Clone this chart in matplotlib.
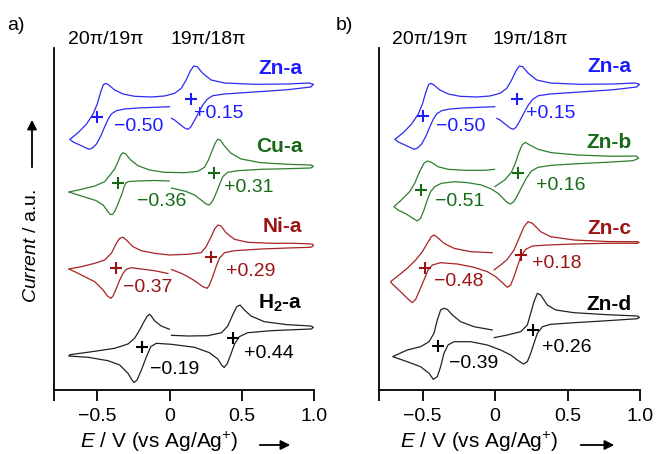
import matplotlib
matplotlib.use('Agg')
import matplotlib.pyplot as plt
from matplotlib.patches import FancyArrowPatch

plt.rcParams['font.family'] = ['Liberation Sans', 'DejaVu Sans']
plt.rcParams['mathtext.fontset'] = 'custom'
plt.rcParams['mathtext.rm'] = 'Liberation Sans'
plt.rcParams['mathtext.it'] = 'Liberation Sans:italic'
plt.rcParams['mathtext.bf'] = 'Liberation Sans:bold'

# ---------------- data (E in V vs Ag/Ag+, current in a.u. incl. vertical offset) -------------
x_ticks = [-0.8, -0.5, 0.0, 0.5, 1.0]
x_tick_labels = ['', '\u22120.5', '0', '0.5', '1.0']
wave_labels = ['20\u03c0/19\u03c0', '19\u03c0/18\u03c0']

zn_a_1 = [(-0.690, 250.7), (-0.633, 257.3), (-0.575, 266.0), (-0.529, 276.0), (-0.499, 286.7),
          (-0.476, 298.3), (-0.458, 305.3), (-0.442, 306.7), (-0.421, 305.0), (-0.380, 300.0),
          (-0.322, 296.0), (-0.242, 293.7), (-0.127, 293.0), (-0.035, 294.0), (0.035, 296.7),
          (0.081, 301.7), (0.115, 310.0), (0.145, 319.3), (0.168, 324.0), (0.191, 323.3),
          (0.230, 316.7), (0.288, 310.0), (0.380, 307.0), (0.587, 305.7), (0.817, 306.0),
          (0.966, 307.0), (0.996, 305.7), (0.978, 303.0), (0.817, 300.3), (0.587, 298.0),
          (0.380, 296.0), (0.299, 294.3), (0.260, 290.7), (0.230, 285.0), (0.196, 276.0),
          (0.168, 268.3), (0.145, 262.7), (0.127, 260.7), (0.104, 262.0), (0.069, 266.0),
          (0.035, 270.0), (0.012, 271.7)]
zn_a_2 = [(0.000, 283.3), (-0.104, 282.7), (-0.219, 282.0), (-0.311, 281.0), (-0.368, 279.3),
          (-0.403, 276.0), (-0.426, 270.7), (-0.449, 263.3), (-0.476, 254.0), (-0.506, 246.0),
          (-0.534, 242.0), (-0.557, 240.7), (-0.582, 242.3), (-0.621, 245.0), (-0.667, 248.0),
          (-0.690, 250.7)]

cu_a_1 = [(-0.697, 198.0), (-0.610, 200.7), (-0.518, 204.0), (-0.449, 208.3), (-0.414, 214.7),
          (-0.380, 221.0), (-0.357, 228.3), (-0.338, 235.0), (-0.322, 237.3), (-0.304, 236.0),
          (-0.269, 230.0), (-0.219, 224.3), (-0.138, 220.0), (-0.035, 217.7), (0.104, 217.3),
          (0.196, 218.7), (0.242, 222.7), (0.269, 230.0), (0.292, 238.3), (0.315, 246.7),
          (0.334, 250.7), (0.352, 250.0), (0.380, 244.0), (0.426, 236.7), (0.495, 231.0),
          (0.633, 227.3), (0.817, 225.7), (0.978, 225.0), (0.996, 223.7), (0.978, 222.0),
          (0.817, 221.3), (0.633, 220.7), (0.472, 219.3), (0.403, 217.7), (0.368, 213.3),
          (0.345, 205.0), (0.322, 196.7), (0.299, 189.3), (0.276, 185.0), (0.253, 186.0),
          (0.219, 190.0), (0.173, 195.0), (0.115, 198.5), (0.058, 200.5), (0.012, 202.0)]
cu_a_2 = [(0.000, 209.0), (-0.104, 209.5), (-0.219, 209.0), (-0.280, 208.5), (-0.300, 207.5),
          (-0.315, 203.0), (-0.330, 196.0), (-0.356, 186.5), (-0.378, 179.0), (-0.395, 175.5),
          (-0.410, 175.5), (-0.430, 179.0), (-0.460, 185.0), (-0.510, 189.5), (-0.600, 193.5),
          (-0.697, 198.0)]

ni_a_1 = [(-0.697, 121.0), (-0.610, 123.3), (-0.518, 126.7), (-0.449, 130.0), (-0.403, 136.7),
          (-0.368, 146.7), (-0.345, 151.7), (-0.322, 152.7), (-0.299, 150.0), (-0.253, 143.3),
          (-0.196, 139.3), (-0.104, 136.7), (0.000, 135.0), (0.127, 135.7), (0.219, 137.3),
          (0.253, 143.3), (0.288, 153.3), (0.311, 160.7), (0.334, 165.0), (0.357, 164.0),
          (0.391, 157.3), (0.449, 150.7), (0.541, 147.7), (0.702, 146.7), (0.863, 146.7),
          (0.989, 146.0), (0.996, 144.3), (0.978, 142.7), (0.817, 142.0), (0.633, 141.0),
          (0.449, 139.3), (0.380, 137.3), (0.345, 131.7), (0.322, 123.3), (0.299, 113.3),
          (0.276, 105.0), (0.260, 101.7), (0.230, 103.3), (0.184, 108.3), (0.127, 113.3),
          (0.081, 116.7), (0.012, 120.5)]
ni_a_2 = [(-0.010, 116.5), (-0.104, 119.3), (-0.196, 121.0), (-0.265, 122.3), (-0.299, 120.7),
          (-0.322, 116.7), (-0.345, 110.0), (-0.368, 101.7), (-0.391, 94.0), (-0.407, 91.7),
          (-0.430, 94.0), (-0.460, 100.0), (-0.518, 108.3), (-0.587, 113.3), (-0.656, 118.3),
          (-0.697, 121.0)]

h2_a_1 = [(0.000, 60.7), (-0.058, 64.0), (-0.104, 69.3), (-0.127, 74.0), (-0.138, 75.7),
          (-0.154, 74.0), (-0.177, 68.3), (-0.207, 60.0), (-0.242, 51.7), (-0.288, 46.0),
          (-0.380, 41.7), (-0.518, 38.7), (-0.690, 35.3), (-0.698, 34.0), (-0.564, 32.7),
          (-0.426, 29.3), (-0.345, 25.0), (-0.288, 16.7), (-0.260, 10.0), (-0.245, 7.5),
          (-0.225, 10.0), (-0.195, 20.0), (-0.160, 33.3), (-0.130, 43.3), (-0.092, 46.7),
          (0.012, 45.7), (0.173, 42.7), (0.276, 37.3), (0.334, 31.0), (0.360, 25.0),
          (0.378, 22.5), (0.400, 26.5), (0.425, 36.0), (0.450, 46.0), (0.483, 53.3),
          (0.541, 57.3), (0.702, 59.3), (0.863, 60.3), (0.982, 61.0), (0.996, 62.7),
          (0.978, 64.0), (0.817, 65.3), (0.656, 68.3), (0.564, 74.0), (0.513, 80.7),
          (0.488, 85.0), (0.465, 83.3), (0.437, 75.0), (0.403, 64.0), (0.360, 57.3),
          (0.265, 54.3), (0.127, 54.0), (0.012, 54.7)]

zn_b_1 = [(-0.002, 220.7), (-0.071, 219.7), (-0.209, 219.7), (-0.324, 220.7), (-0.393, 223.3),
          (-0.439, 227.7), (-0.467, 229.0), (-0.490, 226.7), (-0.520, 218.3), (-0.554, 206.7),
          (-0.589, 198.3), (-0.646, 190.0), (-0.697, 183.3), (-0.669, 180.0), (-0.612, 176.0),
          (-0.566, 171.7), (-0.536, 169.0), (-0.513, 171.7), (-0.490, 180.0), (-0.467, 190.0),
          (-0.444, 198.3), (-0.416, 203.3), (-0.370, 206.7), (-0.278, 208.3), (-0.186, 207.3),
          (-0.094, 205.0), (-0.025, 201.0), (0.021, 196.7), (0.055, 191.7), (0.083, 187.7),
          (0.106, 186.0), (0.129, 188.3), (0.154, 194.3), (0.182, 202.3), (0.216, 211.7),
          (0.251, 219.0), (0.297, 222.7), (0.389, 224.7), (0.573, 226.3), (0.803, 228.0),
          (0.952, 229.3), (0.991, 231.7), (0.975, 234.0), (0.803, 233.7), (0.573, 235.0),
          (0.389, 237.3), (0.297, 240.7), (0.239, 245.0), (0.209, 247.7), (0.186, 245.0),
          (0.163, 236.7), (0.140, 226.7), (0.113, 217.7), (0.067, 210.0), (-0.002, 203.3)]

zn_c_1 = [(-0.018, 137.3), (-0.168, 138.3), (-0.283, 141.7), (-0.352, 146.7), (-0.398, 152.7),
          (-0.421, 155.0), (-0.439, 153.3), (-0.467, 146.7), (-0.501, 138.3), (-0.547, 130.0),
          (-0.605, 121.7), (-0.662, 115.0), (-0.720, 108.3), (-0.708, 106.0), (-0.651, 98.3),
          (-0.605, 91.7), (-0.570, 87.3), (-0.547, 90.7), (-0.524, 98.3), (-0.490, 110.0),
          (-0.462, 120.0), (-0.432, 125.0), (-0.375, 127.3), (-0.260, 126.0), (-0.145, 122.7),
          (-0.053, 118.3), (0.005, 113.3), (0.051, 107.3), (0.085, 102.7), (0.108, 105.0),
          (0.131, 113.3), (0.154, 123.3), (0.177, 133.3), (0.212, 140.7), (0.258, 144.0),
          (0.361, 145.0), (0.545, 146.0), (0.775, 146.7), (0.982, 146.7), (0.994, 147.7),
          (0.982, 148.3), (0.775, 148.5), (0.545, 150.0), (0.384, 153.3), (0.315, 158.3),
          (0.258, 166.7), (0.228, 168.3), (0.200, 163.3), (0.166, 151.7), (0.131, 140.0),
          (0.085, 130.7), (0.039, 125.0), (-0.007, 120.0)]

zn_d_1 = [(-0.018, 60.0), (-0.145, 63.3), (-0.237, 68.3), (-0.294, 75.0), (-0.329, 80.7),
          (-0.352, 81.7), (-0.375, 80.0), (-0.398, 70.0), (-0.421, 56.7), (-0.455, 48.3),
          (-0.513, 43.3), (-0.605, 40.0), (-0.697, 34.0), (-0.705, 33.3), (-0.605, 28.3),
          (-0.513, 23.3), (-0.455, 16.7), (-0.426, 10.7), (-0.398, 13.3), (-0.375, 23.3),
          (-0.352, 36.7), (-0.324, 45.0), (-0.283, 48.3), (-0.168, 48.3), (-0.053, 45.0),
          (0.039, 40.0), (0.108, 35.0), (0.154, 30.0), (0.196, 26.0), (0.223, 28.3),
          (0.246, 36.7), (0.269, 46.7), (0.292, 56.7), (0.327, 63.3), (0.384, 65.7),
          (0.545, 67.3), (0.775, 69.3), (0.982, 71.3), (0.996, 72.7), (0.982, 74.0),
          (0.775, 75.3), (0.545, 77.3), (0.419, 80.0), (0.361, 85.0), (0.315, 95.0),
          (0.292, 96.7), (0.269, 88.3), (0.246, 76.7), (0.223, 65.0), (0.177, 58.3),
          (0.085, 55.0), (-0.007, 52.3)]

names_a = ['Zn-a', 'Cu-a', 'Ni-a', r'H$_\mathbf{2}$-a']
names_b = ['Zn-a', 'Zn-b', 'Zn-c', 'Zn-d']
e_half_a = [(-0.50, 0.15), (-0.36, 0.31), (-0.37, 0.29), (-0.19, 0.44)]
e_half_b = [(-0.50, 0.15), (-0.51, 0.16), (-0.48, 0.18), (-0.39, 0.26)]
# current level at which each E1/2 cross is drawn
cross_i_a = [(273.3, 290.7), (206.7, 217.3), (121.7, 133.3), (42.7, 52.3)]
cross_i_b = [(274.0, 291.0), (200.0, 216.7), (121.7, 135.0), (44.0, 60.0)]

# ---------------- layout / style -------------
W, H = 656, 454
fig = plt.figure(figsize=(W / 100, H / 100), dpi=100)


def frac(x, y):
    return (x / W, 1 - y / H)


LINE = {'blue': '#2b2bf2', 'green': '#2f7d2f', 'red': '#a52424', 'black': '#222222'}
TXT = {'blue': '#1c1cff', 'green': '#176a17', 'red': '#9c1414', 'black': '#000000'}
colors_a = ['blue', 'green', 'red', 'black']
colors_b = ['blue', 'green', 'red', 'black']

curves_a = [[zn_a_1, zn_a_2], [cu_a_1, cu_a_2], [ni_a_1, ni_a_2], [h2_a_1]]
curves_b = [[zn_a_1, zn_a_2], [zn_b_1], [zn_c_1], [zn_d_1]]

# name label (right edge E, I), value labels (left edge E, I) for left and right wave
name_pos_a = [(0.92, 322), (0.92, 244), (0.92, 163), (0.92, 87)]
name_pos_b = [(0.94, 323), (0.94, 247), (0.94, 162), (0.94, 86)]
val_pos_a = [((-0.385, 263.3), (0.172, 276)), ((-0.228, 189), (0.38, 203)),
             ((-0.324, 102), (0.393, 119)), ((-0.138, 21), (0.517, 37))]
val_pos_b = [((-0.41, 263.3), (0.214, 276)), ((-0.414, 188), (0.283, 205)),
             ((-0.42, 108), (0.255, 127)), ((-0.317, 26), (0.324, 43))]

axes_px = [(54, 314), (379, 640)]
top_px, bot_px = 48, 390


def fmt(v):
    return ('+' if v > 0 else '\u2212') + '%.2f' % abs(v)


panels = [
    (curves_a, colors_a, names_a, e_half_a, cross_i_a, name_pos_a, val_pos_a),
    (curves_b, colors_b, names_b, e_half_b, cross_i_b, name_pos_b, val_pos_b),
]

for k, (curves, cols, names, ehalf, cross_i, npos, vpos) in enumerate(panels):
    l, r = axes_px[k]
    ax = fig.add_axes([l / W, 1 - bot_px / H, (r - l) / W, (bot_px - top_px) / H])
    ax.set_xlim(-0.8, 1.0)
    ax.set_ylim(0, bot_px - top_px)
    for s in ['top', 'right']:
        ax.spines[s].set_visible(False)
    for s in ['left', 'bottom']:
        ax.spines[s].set_linewidth(1.3)
    ax.set_xticks(x_ticks)
    ax.set_xticklabels(x_tick_labels, fontsize=14)
    ax.tick_params(axis='x', direction='out', length=8, width=1.3, pad=5)
    ax.set_yticks([])
    ax.patch.set_visible(False)

    for segs, c, name, eh, ci, npp, vp in zip(curves, cols, names, ehalf, cross_i, npos, vpos):
        for seg in segs:
            ax.plot([p[0] for p in seg], [p[1] for p in seg], color=LINE[c], lw=0.9,
                    solid_joinstyle='round', solid_capstyle='round')
        ax.plot(list(eh), list(ci), ls='none', marker='+', ms=8, mew=1.5, color=TXT[c])
        ax.text(npp[0], npp[1], name, ha='right', va='center', fontsize=15,
                fontweight='bold', color=TXT[c])
        for v, (px, py) in zip(eh, vp):
            ax.text(px, py, fmt(v), ha='left', va='center', fontsize=14, color=TXT[c])

    # wave assignment labels above the plot
    wx = [(106, 208), (430, 530)][k]
    for x, t in zip(wx, wave_labels):
        fig.text(*frac(x, 39), t, ha='center', va='center', fontsize=14)

    # panel letter
    fig.text(*frac([16, 344][k], 25), ['a)', 'b)'][k], ha='center', va='center', fontsize=14)

    # x label and arrow
    xl = [(159.5, 257, 293), (479, 578, 617)][k]
    fig.text(*frac(xl[0], 448), r'$E$ / V (vs Ag/Ag$^{+}$)', ha='center',
             va='baseline', fontsize=15)
    fig.add_artist(FancyArrowPatch(frac(xl[1], 445), frac(xl[2], 445),
                                   transform=fig.transFigure, arrowstyle='-|>',
                                   mutation_scale=14, lw=1.3, color='black'))

# y label and arrow (panel a only)
fig.text(*frac(32, 246), r'$Current$ / a.u.', rotation=90, ha='center', va='center',
         fontsize=14)
fig.add_artist(FancyArrowPatch(frac(32, 170), frac(32, 117), transform=fig.transFigure,
                               arrowstyle='-|>', mutation_scale=14, lw=1.3, color='black'))

fig.savefig('out.png', dpi=100)
